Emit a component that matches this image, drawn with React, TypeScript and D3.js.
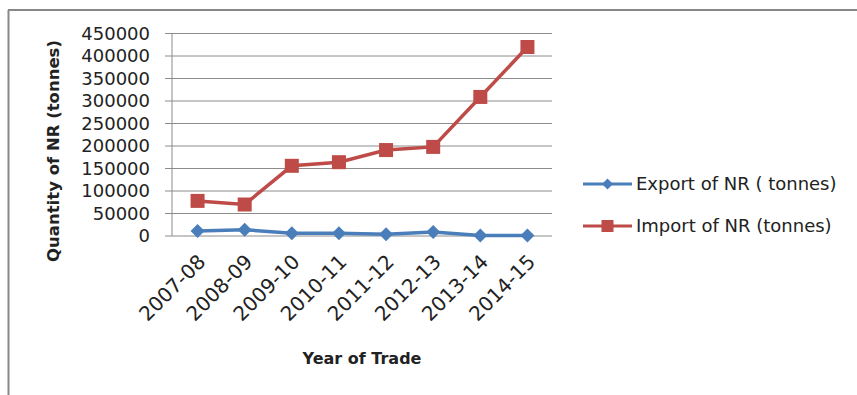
import React from "react";
import * as d3 from "d3";

const categories = ["2007-08", "2008-09", "2009-10", "2010-11", "2011-12", "2012-13", "2013-14", "2014-15"];
const exportValues = [11000, 14000, 6000, 6000, 4000, 9000, 1000, 1000];
const importValues = [78000, 70000, 156000, 164000, 191000, 198000, 309000, 420000];
const yTicks = [0, 50000, 100000, 150000, 200000, 250000, 300000, 350000, 400000, 450000];
const seriesNames = ["Export of NR ( tonnes)", "Import of NR (tonnes)"];

const W = 857;
const H = 395;
const FONT = "'DejaVu Sans', sans-serif";
const BLUE = "#4A7EBB";
const RED = "#BE4B48";

export default function App() {
  const x = d3.scalePoint<string>().domain(categories).range([174, 551]).padding(0.5);
  const y = d3.scaleLinear().domain([0, 450000]).range([236, 33.5]);
  const line = d3
    .line<number>()
    .x((_, i) => x(categories[i]) as number)
    .y((d) => y(d));

  const diamond = (cx: number, cy: number, r: number) =>
    `M${cx},${cy - r}L${cx + r},${cy}L${cx},${cy + r}L${cx - r},${cy}Z`;

  return (
    <svg
      width={W}
      height={H}
      style={{ position: "absolute", left: 0, top: 0, background: "#fff" }}
      fontFamily={FONT}
    >
      <rect x={0} y={0} width={W} height={H} fill="#fff" />
      {/* frame (left and top only visible) */}
      <line x1={8.5} y1={10} x2={8.5} y2={H} stroke="#888" strokeWidth={2} />
      <line x1={8} y1={10} x2={W} y2={10} stroke="#888" strokeWidth={2} />

      {/* gridlines */}
      {yTicks.map((t) => (
        <g key={t}>
          {t > 0 && (
            <line x1={172} x2={552} y1={y(t)} y2={y(t)} stroke="#8c8c8c" strokeWidth={1} />
          )}
          <line x1={165} x2={172} y1={y(t)} y2={y(t)} stroke="#8c8c8c" strokeWidth={1} />
          <text x={150} y={y(t)} dy="0.36em" textAnchor="end" fontSize={18} fill="#222">
            {t}
          </text>
        </g>
      ))}
      {/* axes */}
      <line x1={172} x2={172} y1={33.5} y2={236} stroke="#8c8c8c" strokeWidth={1} />
      <line x1={172} x2={552} y1={236} y2={236} stroke="#8c8c8c" strokeWidth={1} />

      {/* x labels */}
      {categories.map((c) => (
        <text
          key={c}
          transform={`translate(${(x(c) as number) + 4},${258}) rotate(-45)`}
          textAnchor="end"
          dy="0.36em"
          fontSize={20}
          fill="#222"
        >
          {c}
        </text>
      ))}

      {/* axis titles */}
      <text
        transform={`translate(53,${151}) rotate(-90)`}
        textAnchor="middle"
        dy="0.36em"
        fontSize={16.5}
        fontWeight="bold"
        fill="#222"
      >
        Quantity of NR (tonnes)
      </text>
      <text x={362} y={358} textAnchor="middle" dy="0.36em" fontSize={16} fontWeight="bold" fill="#222">
        Year of Trade
      </text>

      {/* series */}
      <path d={line(importValues) || ""} fill="none" stroke={RED} strokeWidth={3.5} />
      {importValues.map((v, i) => (
        <rect
          key={i}
          x={(x(categories[i]) as number) - 7}
          y={y(v) - 7}
          width={14}
          height={14}
          fill={RED}
        />
      ))}
      <path d={line(exportValues) || ""} fill="none" stroke={BLUE} strokeWidth={3.5} />
      {exportValues.map((v, i) => (
        <path key={i} d={diamond(x(categories[i]) as number, y(v), 7)} fill={BLUE} />
      ))}

      {/* legend */}
      <line x1={583} x2={632} y1={184} y2={184} stroke={BLUE} strokeWidth={3} />
      <path d={diamond(607.5, 184, 5.5)} fill={BLUE} />
      <text x={636} y={184} dy="0.36em" fontSize={18} fill="#222">
        {seriesNames[0]}
      </text>
      <line x1={583} x2={632} y1={226} y2={226} stroke={RED} strokeWidth={3} />
      <rect x={601.5} y={220} width={12} height={12} fill={RED} />
      <text x={636} y={226} dy="0.36em" fontSize={18} fill="#222">
        {seriesNames[1]}
      </text>
    </svg>
  );
}
